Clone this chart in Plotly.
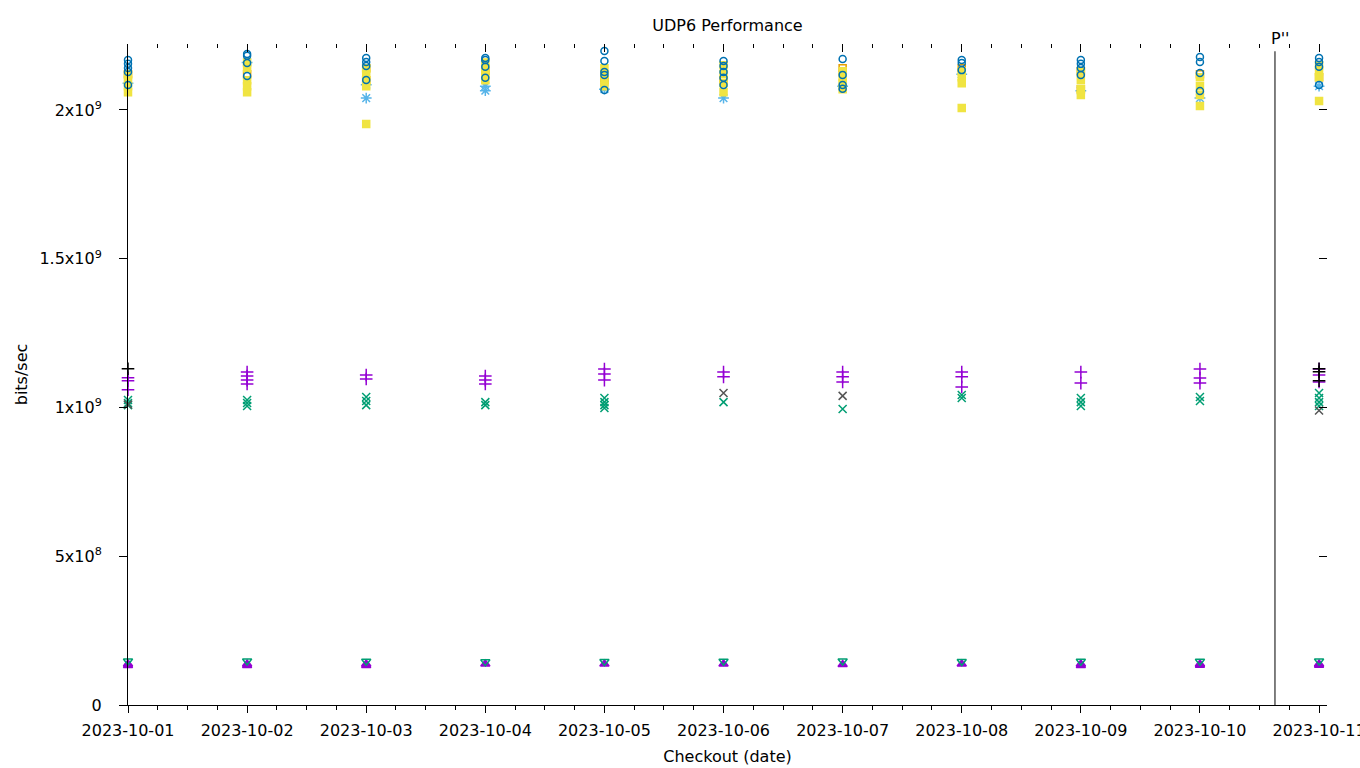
import plotly.graph_objects as go

dates = ["2023-10-01", "2023-10-02", "2023-10-03", "2023-10-04", "2023-10-05", "2023-10-06",
         "2023-10-07", "2023-10-08", "2023-10-09", "2023-10-10", "2023-10-11"]

# values in units of 1e9 bits/sec, one list per date
purple_plus = [[1.10, 1.09, 1.06], [1.119, 1.106, 1.092, 1.079], [1.109, 1.096], [1.106, 1.092, 1.079],
               [1.129, 1.113, 1.092], [1.119, 1.103], [1.119, 1.103, 1.086], [1.119, 1.103, 1.069],
               [1.119, 1.082], [1.129, 1.099, 1.082], [1.129, 1.109, 1.086]]
green_x = [[1.025, 1.015, 1.008], [1.025, 1.015, 1.005], [1.035, 1.022, 1.008], [1.018, 1.008],
           [1.032, 1.018, 1.008, 0.998], [1.018], [0.995], [1.042, 1.032],
           [1.032, 1.018, 1.005], [1.035, 1.022], [1.049, 1.032, 1.018, 1.005]]
lightblue_ast = [[2.09], [2.16], [2.04, 2.085], [2.065, 2.08], [2.07], [2.04], [2.08], [2.12],
                 [2.065], [2.04], [2.08]]
orange_sq = [[2.12], [2.12], [2.10, 2.14], [2.13], [2.10], [2.10], [2.14], [2.14], [2.13, 2.07],
             [2.12], [2.11]]
yellow_sq = [[2.06, 2.08, 2.10, 2.12], [2.06, 2.08, 2.10, 2.14, 2.16], [1.953, 2.08, 2.10, 2.12, 2.14],
             [2.10, 2.12, 2.14, 2.16], [2.08, 2.10, 2.12, 2.14], [2.06, 2.09, 2.12, 2.15],
             [2.07, 2.09, 2.11, 2.13], [2.007, 2.09, 2.11, 2.13], [2.05, 2.07, 2.10, 2.13],
             [2.013, 2.05, 2.08, 2.11], [2.03, 2.11, 2.13, 2.15]]
blue_circ = [[2.168, 2.155, 2.141, 2.128, 2.084], [2.188, 2.182, 2.158, 2.114], [2.175, 2.161, 2.148, 2.101],
             [2.175, 2.168, 2.145, 2.108], [2.198, 2.165, 2.128, 2.118, 2.067],
             [2.165, 2.148, 2.128, 2.108, 2.084], [2.171, 2.118, 2.084, 2.071], [2.168, 2.158, 2.134],
             [2.168, 2.155, 2.141, 2.118], [2.178, 2.161, 2.124, 2.064], [2.175, 2.161, 2.145, 2.084]]
black_plus = [[1.13], [], [], [], [], [], [], [], [], [], [1.13, 1.12, 1.09]]
gray_x = [[1.01], [], [], [], [], [1.049], [1.039], [], [], [], [0.99]]
purple_tri = [[0.133, 0.138], [0.133, 0.138], [0.133, 0.138], [0.138], [0.138], [0.138], [0.136],
              [0.138], [0.133, 0.138], [0.134, 0.138], [0.134, 0.138]]
green_tri = [[0.148], [0.148], [0.147], [0.145], [0.146], [0.147], [0.148], [0.146], [0.147],
             [0.147], [0.148]]

ytick_vals = [0, 5e8, 1e9, 1.5e9, 2e9]
ytick_text = ["0", "5x10<sup>8</sup>", "1x10<sup>9</sup>", "1.5x10<sup>9</sup>", "2x10<sup>9</sup>"]
marker_date = "2023-10-10 15:07"
marker_label = "P''"

series = [
    (purple_plus, "#9400d3", "cross-thin-open", 9),
    (green_x, "#009e73", "x-thin-open", 8),
    (black_plus, "#000000", "cross-thin-open", 9),
    (gray_x, "#555555", "x-thin-open", 8),
    (lightblue_ast, "#56b4e9", "asterisk-open", 9),
    (orange_sq, "#e69f00", "square-open", 7),
    (yellow_sq, "#f0e442", "square", 7),
    (blue_circ, "#0072b2", "circle-open", 7),
    (purple_tri, "#9400d3", "triangle-up", 8),
    (green_tri, "#009e73", "triangle-down-open", 8),
]

fig = go.Figure()
for vals, color, sym, size in series:
    xs, ys = [], []
    for d, lst in zip(dates, vals):
        for v in lst:
            xs.append(d)
            ys.append(v * 1e9)
    fig.add_trace(go.Scatter(x=xs, y=ys, mode="markers", cliponaxis=False, showlegend=False,
                             marker=dict(symbol=sym, color=color, size=size,
                                         line=dict(color=color, width=1.5))))

xr = ["2023-10-01 00:00", "2023-10-11 01:36"]
yr = [0, 2.2218e9]
font = dict(family="DejaVu Sans", size=16, color="black")

fig.add_trace(go.Scatter(x=[dates[0]], y=[0], xaxis="x2", yaxis="y2", mode="markers",
                         marker=dict(opacity=0), showlegend=False, hoverinfo="skip"))

fig.update_layout(
    width=1360, height=768,
    margin=dict(l=128, r=33, t=44, b=63),
    paper_bgcolor="white", plot_bgcolor="white",
    font=font,
    title=dict(text="UDP6 Performance", x=0.5, xref="paper", xanchor="center",
               y=0.974, yref="container", font=dict(size=16)),
    xaxis=dict(type="date", range=xr, tickvals=dates, ticktext=dates, ticklabeloverflow="allow",
               automargin=False,
               ticks="outside", ticklen=7, tickcolor="black", showline=True, linecolor="black",
               linewidth=1, showgrid=False, zeroline=False, ticklabelstandoff=4,
               minor=dict(dtick=6 * 3600 * 1000, ticks="outside", ticklen=4, tickcolor="black"),
               title=dict(text="Checkout (date)", font=dict(size=16), standoff=11)),
    yaxis=dict(range=yr, tickvals=ytick_vals, ticktext=ytick_text, ticks="outside", ticklen=8,
               automargin=False,
               tickcolor="black", showline=True, linecolor="black", linewidth=1,
               showgrid=False, zeroline=False, ticklabelstandoff=14,
               title=dict(text="bits/sec", font=dict(size=16), standoff=7)),
    xaxis2=dict(type="date", range=xr, overlaying="x", side="top", tickvals=dates,
                showticklabels=False, ticks="inside", ticklen=8, tickcolor="black",
                showline=False, showgrid=False, zeroline=False, automargin=False,
                minor=dict(dtick=6 * 3600 * 1000, ticks="inside", ticklen=4, tickcolor="black")),
    yaxis2=dict(range=yr, overlaying="y", side="right", tickvals=ytick_vals, showticklabels=False,
                ticks="inside", ticklen=8, tickcolor="black", showline=False, showgrid=False,
                zeroline=False, automargin=False),
)

fig.add_shape(type="line", xref="x", yref="paper", x0=marker_date, x1=marker_date,
              y0=0, y1=0.989, line=dict(color="black", width=1))
fig.add_annotation(x=marker_date, xref="x", y=1.0, yref="paper", yanchor="bottom",
                   xanchor="left", xshift=-6, yshift=-6, text=marker_label, showarrow=False,
                   font=dict(size=16))

fig.write_html("out.html")
